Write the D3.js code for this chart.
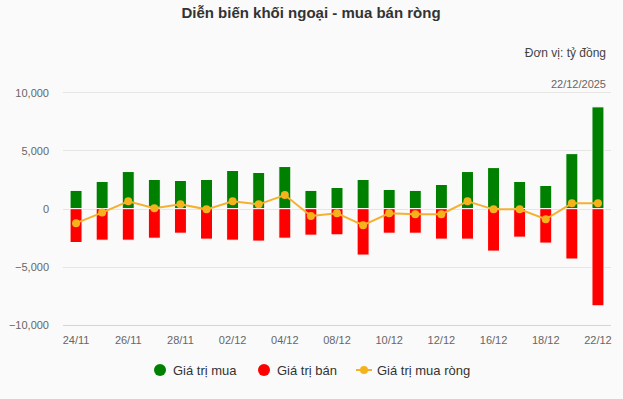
<!DOCTYPE html>
<html>
<head>
<meta charset="utf-8">
<script src="https://cdn.jsdelivr.net/npm/d3@7"></script>
<style>
  html, body { margin: 0; padding: 0; background: #fafafa; }
  svg { display: block; font-family: "Liberation Sans", Arial, sans-serif; }
</style>
</head>
<body>
<svg id="chart" width="623" height="399"></svg>
<script>
// data (ty dong)
const dates = ["24/11","25/11","26/11","27/11","28/11","01/12","02/12","03/12","04/12","05/12",
               "08/12","09/12","10/12","11/12","12/12","15/12","16/12","17/12","18/12","19/12","22/12"];
const buyValues  = [1570, 2340, 3190, 2510, 2420, 2510, 3280, 3110, 3620, 1570,
                    1820, 2510, 1650, 1570, 2080, 3190, 3530, 2340, 1990, 4730, 8750];
const sellValues = [-2910, -2710, -2710, -2540, -2110, -2620, -2710, -2790, -2540, -2280,
                    -2250, -3990, -2110, -2110, -2620, -2620, -3650, -2450, -2960, -4330, -8350];
const netValues  = [-1250, -340, 630, 30, 370, -60, 630, 370, 1170, -630,
                    -400, -1420, -400, -480, -480, 630, -60, -60, -910, 460, 460];
const yTicks = [-10000, -5000, 0, 5000, 10000];

const svg = d3.select("#chart");
const margin = {left: 63, right: 12, top: 92, bottom: 74};
const width = 623, height = 399;

const x = d3.scaleBand().domain(dates).range([margin.left, width - margin.right]);
const y = d3.scaleLinear().domain([-10000, 10000]).range([height - margin.bottom, margin.top + 0.3]);

// title + subtitles
svg.append("text")
  .attr("x", 311).attr("y", 18)
  .attr("text-anchor", "middle")
  .attr("font-size", 15).attr("font-weight", "bold").attr("fill", "#333")
  .text("Diễn biến khối ngoại - mua bán ròng");

svg.append("text")
  .attr("x", 606).attr("y", 57)
  .attr("text-anchor", "end").attr("font-size", 12).attr("fill", "#444")
  .text("Đơn vị: tỷ đồng");

svg.append("text")
  .attr("x", 606).attr("y", 88)
  .attr("text-anchor", "end").attr("font-size", 11).attr("fill", "#666")
  .text("22/12/2025");

// grid
svg.append("g")
  .selectAll("line")
  .data(yTicks)
  .enter()
  .append("line")
  .attr("x1", margin.left).attr("x2", width - margin.right)
  .attr("y1", d => Math.round(y(d)) + 0.5).attr("y2", d => Math.round(y(d)) + 0.5)
  .attr("stroke", d => d === -10000 ? "#ccd6eb" : "#e6e6e6");

// y axis labels
const yAxis = svg.append("g")
  .attr("transform", `translate(${margin.left - 14},0)`)
  .call(d3.axisLeft(y).tickValues(yTicks).tickSize(0).tickPadding(0).tickFormat(d3.format(",")));
yAxis.select(".domain").remove();
yAxis.selectAll("text").attr("font-size", 11).attr("fill", "#666").attr("font-family", null).attr("dy", "0.35em");

// x axis labels (every other)
const xAxis = svg.append("g")
  .attr("transform", `translate(0,${height - margin.bottom})`)
  .call(d3.axisBottom(x).tickSize(0).tickPadding(11).tickFormat((d, i) => i % 2 === 0 ? d : ""));
xAxis.select(".domain").remove();
xAxis.selectAll("text").attr("font-size", 11).attr("fill", "#666").attr("font-family", null);

const barW = 12;
const bx = d => x(d) + x.bandwidth() / 2 - barW / 2;

// buy bars
svg.append("g")
  .selectAll("rect")
  .data(dates)
  .enter()
  .append("rect")
  .attr("x", bx)
  .attr("width", barW)
  .attr("y", (d, i) => y(buyValues[i]))
  .attr("height", (d, i) => y(0) - y(buyValues[i]))
  .attr("fill", "#008000")
  .attr("stroke", "#ffffff").attr("stroke-width", 1);

// sell bars
svg.append("g")
  .selectAll("rect")
  .data(dates)
  .enter()
  .append("rect")
  .attr("x", bx)
  .attr("width", barW)
  .attr("y", y(0))
  .attr("height", (d, i) => y(sellValues[i]) - y(0))
  .attr("fill", "#ff0000")
  .attr("stroke", "#ffffff").attr("stroke-width", 1);

// net line
const line = d3.line()
  .x((d, i) => x(dates[i]) + x.bandwidth() / 2)
  .y(d => y(d));

svg.append("path")
  .datum(netValues)
  .attr("d", line)
  .attr("fill", "none")
  .attr("stroke", "#f4b12e")
  .attr("stroke-width", 2);

svg.append("g")
  .selectAll("circle")
  .data(netValues)
  .enter()
  .append("circle")
  .attr("cx", (d, i) => x(dates[i]) + x.bandwidth() / 2)
  .attr("cy", d => y(d))
  .attr("r", 4)
  .attr("fill", "#f6b21b");

// legend
const legendY = 370;
const legend = svg.append("g").attr("font-size", 13).attr("fill", "#333");

legend.append("circle").attr("cx", 160).attr("cy", legendY).attr("r", 6).attr("fill", "#008000");
legend.append("text").attr("x", 173).attr("y", legendY + 4.5).text("Giá trị mua");

legend.append("circle").attr("cx", 264).attr("cy", legendY).attr("r", 6).attr("fill", "#ff0000");
legend.append("text").attr("x", 277).attr("y", legendY + 4.5).text("Giá trị bán");

legend.append("line")
  .attr("x1", 356).attr("x2", 372).attr("y1", legendY).attr("y2", legendY)
  .attr("stroke", "#f4b12e").attr("stroke-width", 2);
legend.append("circle").attr("cx", 364).attr("cy", legendY).attr("r", 4).attr("fill", "#f6b21b");
legend.append("text").attr("x", 377).attr("y", legendY + 4.5).text("Giá trị mua ròng");
</script>
</body>
</html>
